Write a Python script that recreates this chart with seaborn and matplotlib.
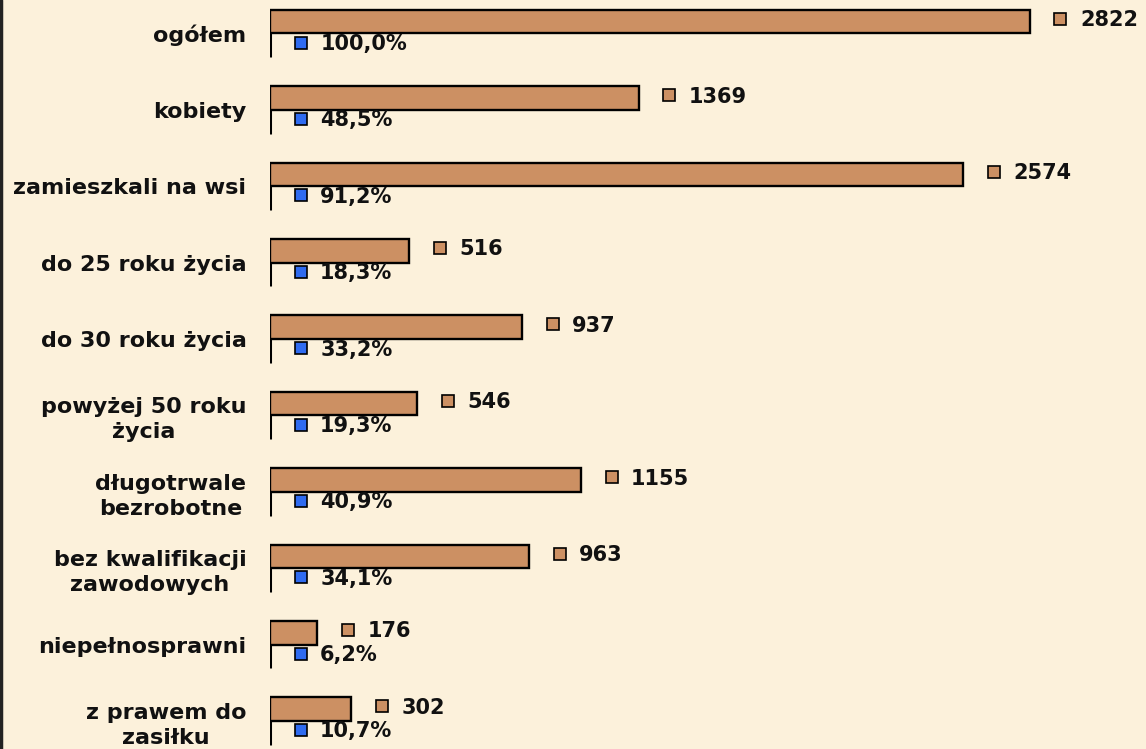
import numpy as np
import pandas as pd
import seaborn as sns
import matplotlib.pyplot as plt
from matplotlib.transforms import offset_copy

kategorie = ['ogółem', 'kobiety', 'zamieszkali na wsi', 'do 25 roku życia',
             'do 30 roku życia', 'powyżej 50 roku\nżycia', 'długotrwale\nbezrobotne',
             'bez kwalifikacji\nzawodowych', 'niepełnosprawni', 'z prawem do\nzasiłku']
liczba = [2822, 1369, 2574, 516, 937, 546, 1155, 963, 176, 302]
procent = [1.000, 0.485, 0.912, 0.183, 0.332, 0.193, 0.409, 0.341, 0.062, 0.107]

df = pd.DataFrame({
    'kategoria': kategorie * 2,
    'wartosc': liczba + procent,
    'seria': ['liczba'] * len(kategorie) + ['procent'] * len(kategorie),
})

bg = '#FCF1DB'
brown = '#CC9063'
blue = '#2F6BF0'

sns.set_theme(style='white')
plt.rcParams['font.family'] = ['DejaVu Sans']

fig = plt.figure(figsize=(11.46, 7.49), dpi=100, facecolor=bg)
ax = fig.add_axes([270 / 1146, 0, 1 - 270 / 1146, 1])
ax.set_facecolor(bg)

sns.barplot(data=df, y='kategoria', x='wartosc', hue='seria', orient='h',
            palette=[brown, blue], saturation=1, width=0.62, edgecolor='black',
            linewidth=1.7, legend=False, ax=ax)

ax.set_xlim(0, 3253)
ax.set_ylim(9.366, -0.438)

for bar in ax.containers[1]:
    bar.set_linewidth(2.2)

for cont, vals, col, fmt in [(ax.containers[0], liczba, brown, lambda v: f'{v}'),
                             (ax.containers[1], procent, blue,
                              lambda v: f'{v * 100:.1f}'.replace('.', ',') + '%')]:
    for bar, v in zip(cont, vals):
        y = bar.get_y() + bar.get_height() / 2
        x = bar.get_width()
        tr_m = offset_copy(ax.transData, fig=fig, x=22, y=2, units='points')
        ax.plot(x, y, marker='s', markersize=8, markerfacecolor=col,
                markeredgecolor='black', markeredgewidth=1.2, transform=tr_m,
                clip_on=False)
        tr_t = offset_copy(ax.transData, fig=fig, x=36, y=1, units='points')
        ax.text(x, y, fmt(v), transform=tr_t, ha='left', va='center',
                fontsize=15, fontweight='bold', color='#111111')

ax.set_xlabel('')
ax.set_ylabel('')
ax.set_xticks([])
ax.tick_params(axis='y', length=0, pad=17)
for lab in ax.get_yticklabels():
    lab.set_fontsize(16)
    lab.set_fontweight('bold')
    lab.set_multialignment('center')
    lab.set_linespacing(1.3)
    lab.set_color('#111111')
for s in ax.spines.values():
    s.set_visible(False)

fig.add_artist(plt.Line2D([0.001, 0.001], [0, 1], color='#222222', linewidth=2.5,
                          transform=fig.transFigure))

fig.savefig('out.png', dpi=100, facecolor=bg)
